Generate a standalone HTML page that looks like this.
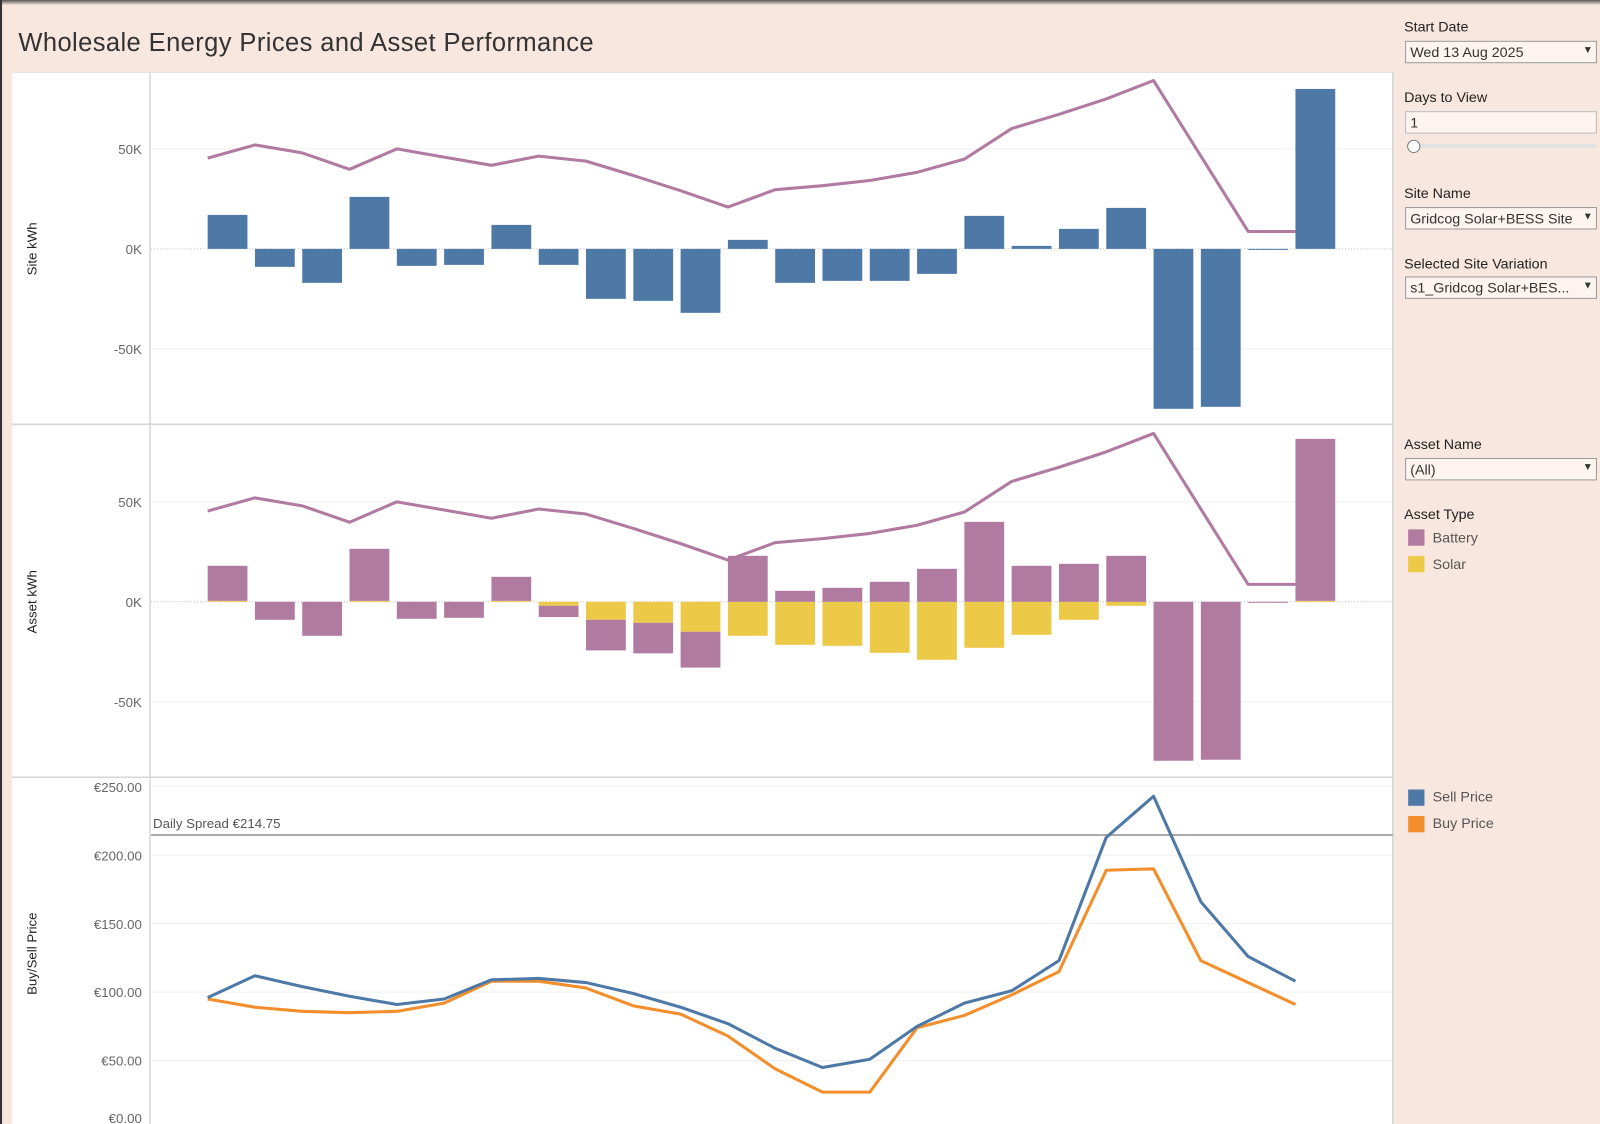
<!DOCTYPE html>
<html><head><meta charset="utf-8">
<style>
html,body{margin:0;padding:0;width:1600px;height:1124px;overflow:hidden;background:#f8e7df;font-family:"Liberation Sans",sans-serif;}
#wrap{position:absolute;left:0;top:0;width:1568px;height:1102px;transform:scale(1.0204,1.02);transform-origin:0 0;background:#f8e7df;}
.lbl{position:absolute;left:1376px;font-size:14px;color:#222;}
.box{position:absolute;left:1377px;width:188px;height:22px;border:1px solid #999;background:#fdf4ef;font-size:14px;color:#333;box-sizing:border-box;padding:2px 4px;}
.box .arr{position:absolute;right:3px;top:3px;font-size:10px;}
.sw{position:absolute;left:1380px;width:16px;height:16px;}
.lt{position:absolute;left:1404px;font-size:14px;color:#555;}
</style></head><body>
<div id="wrap">
<div style="position:absolute;left:0;top:0;width:1568px;height:5px;background:linear-gradient(#555,#f8e7df)"></div>
<div style="position:absolute;left:0;top:0;width:2px;height:1102px;background:#333"></div>
<div style="position:absolute;left:18px;top:28px;font-size:25px;color:#333;letter-spacing:0.4px;font-weight:300">Wholesale Energy Prices and Asset Performance</div>

<div class="lbl" style="top:18px">Start Date</div>
<div class="box" style="top:40px">Wed 13 Aug 2025<span class="arr">▼</span></div>
<div class="lbl" style="top:87px">Days to View</div>
<div class="box" style="top:109px;border-color:#bbb">1</div>
<div style="position:absolute;left:1385px;top:141px;width:180px;height:4px;background:#e2e2e2"></div>
<div style="position:absolute;left:1379px;top:137px;width:11px;height:11px;border-radius:50%;border:1px solid #777;background:#fff"></div>
<div class="lbl" style="top:181px">Site Name</div>
<div class="box" style="top:203px">Gridcog Solar+BESS Site<span class="arr">▼</span></div>
<div class="lbl" style="top:250px">Selected Site Variation</div>
<div class="box" style="top:271px">s1_Gridcog Solar+BES...<span class="arr">▼</span></div>
<div class="lbl" style="top:427px">Asset Name</div>
<div class="box" style="top:449px">(All)<span class="arr">▼</span></div>
<div class="lbl" style="top:496px">Asset Type</div>
<div class="sw" style="top:519px;background:#b07aa1"></div>
<div class="lt" style="top:519px">Battery</div>
<div class="sw" style="top:545px;background:#edc948"></div>
<div class="lt" style="top:545px">Solar</div>
<div class="sw" style="top:774px;background:#4e79a7"></div>
<div class="lt" style="top:773px">Sell Price</div>
<div class="sw" style="top:800px;background:#f28e2b"></div>
<div class="lt" style="top:799px">Buy Price</div>

<svg id="chart" style="position:absolute;left:0;top:0" width="1568" height="1102" xmlns="http://www.w3.org/2000/svg" font-family="Liberation Sans, sans-serif"></svg>
</div>
<script>
const hours=[0,1,2,3,4,5,6,7,8,9,10,11,12,13,14,15,16,17,18,19,20,21,22,23];
const siteKwh=[17,-9,-17,26,-8.5,-8,12,-8,-25,-26,-32,4.5,-17,-16,-16,-12.5,16.5,1.5,10,20.5,-80,-79,-0.5,80];
const priceIndex=[45.4,52,48,39.8,50,45.9,41.8,46.4,43.9,36.7,29.1,20.9,29.6,31.6,34.2,38.3,44.9,60.2,67.3,75,84.2,46.4,8.7,8.7];
const battery=[17.5,-9,-17,26,-8.5,-8,12,-5.6,-15.3,-15.3,-17.9,23,5.5,7,10,16.5,40,18,19,23,-79.5,-79,-0.5,81];
const solar=[0.5,0,0,0.5,0,0,0.5,-2,-9,-10.5,-15,-17,-21.5,-22,-25.5,-29,-23,-16.5,-9,-2,0,0,0,0.5];
const sellPrice=[96,112,104,97,91,95,109,110,107,99,89,77,59,45,51,75,92,101,123,213,243,166,126,108];
const buyPrice=[95,89,86,85,86,92,108,108,103,90,84,68,44,27,27,74,83,98,115,189,190,123,107,91];
const kTicks=[50,0,-50];
const kTickLabels=["50K","0K","-50K"];
const eTicks=[250,200,150,100,50,0];
const eTickLabels=["€250.00","€200.00","€150.00","€100.00","€50.00","€0.00"];
const dailySpread=214.75;

const svg=document.getElementById('chart');
const NS="http://www.w3.org/2000/svg";
function mk(tag,attrs,name,inter){const e=document.createElementNS(NS,tag);for(const k in attrs)e.setAttribute(k,attrs[k]);


svg.appendChild(e);return e;}
const barX=h=>223+h*46.35;
const lineX=h=>203.5+h*46.35;
const BW=39;
const y1=v=>244-v*1.96;
const y2=v=>590-v*1.96;
const y3=v=>1107-v*1.343;

mk('rect',{x:12,y:71,width:1353,height:1031,fill:'#fff'},'plot-background',false);
[[y1,'site'],[y2,'asset']].forEach(([yf,nm])=>{
 kTicks.forEach((t,i)=>{
  if(t!==0) mk('line',{x1:148,x2:1365,y1:yf(t),y2:yf(t),stroke:'#f0f0f0'},nm+'-gridline',false);
  const tx=mk('text',{x:139,y:yf(t)+5,'text-anchor':'end','font-size':13,fill:'#666'},nm+'-y-tick',false);tx.textContent=kTickLabels[i];
 });
 mk('line',{x1:148,x2:1365,y1:yf(0),y2:yf(0),stroke:'#bbb','stroke-dasharray':'1,2'},nm+'-zero-line',false);
});
eTicks.forEach((t,i)=>{
 mk('line',{x1:148,x2:1365,y1:y3(t),y2:y3(t),stroke:'#f0f0f0'},'price-gridline',false);
 const tx=mk('text',{x:139,y:Math.min(y3(t)+5,1101),'text-anchor':'end','font-size':13,fill:'#666'},'price-y-tick',false);tx.textContent=eTickLabels[i];
});
mk('line',{x1:12,x2:1365,y1:416,y2:416,stroke:'#d6d6d6','stroke-width':1.5},'panel-divider',false);
mk('line',{x1:12,x2:1365,y1:762,y2:762,stroke:'#d6d6d6','stroke-width':1.5},'panel-divider',false);
mk('line',{x1:147,x2:147,y1:71,y2:1102,stroke:'#d6d6d6','stroke-width':1.5},'y-axis-line',false);
mk('line',{x1:1365,x2:1365,y1:71,y2:1102,stroke:'#d6d6d6','stroke-width':1.5},'plot-right-border',false);
mk('line',{x1:12,x2:1365,y1:71,y2:71,stroke:'#e0e0e0'},'plot-top-border',false);
[['Site kWh',244,'site-y-axis-title'],['Asset kWh',590,'asset-y-axis-title'],['Buy/Sell Price',935,'price-y-axis-title']].forEach(([t,cy,n])=>{
 const tx=mk('text',{x:36,y:cy,'text-anchor':'middle','font-size':13,fill:'#222',transform:`rotate(-90 36 ${cy})`},n,false);tx.textContent=t;
});
hours.forEach(h=>{const v=siteKwh[h];mk('rect',{x:barX(h)-BW/2,y:Math.min(y1(v),y1(0)),width:BW,height:Math.abs(y1(v)-y1(0)),fill:'#4e79a7'},'site-bar-h'+h,true);});
function poly(arr,xf,yf,color,w,name){mk('polyline',{points:hours.map(h=>xf(h)+','+yf(arr[h])).join(' '),fill:'none',stroke:color,'stroke-width':w,'stroke-linejoin':'round'},name,true);}
poly(priceIndex,lineX,y1,'#b07aa1',3,'site-price-line');
hours.forEach(h=>{
 let pos=0,neg=0;
 [[solar[h],'#edc948','solar'],[battery[h],'#b07aa1','battery']].forEach(([v,c,n])=>{
  if(v===0)return;
  let a,b;
  if(v>0){a=pos;b=pos+v;pos=b;}else{a=neg;b=neg+v;neg=b;}
  mk('rect',{x:barX(h)-BW/2,y:Math.min(y2(a),y2(b)),width:BW,height:Math.abs(y2(a)-y2(b)),fill:c},n+'-bar-h'+h,true);
 });
});
poly(priceIndex,lineX,y2,'#b07aa1',3,'asset-price-line');
mk('line',{x1:148,x2:1365,y1:y3(dailySpread),y2:y3(dailySpread),stroke:'#aaa','stroke-width':2},'daily-spread-line',false);
const sp=mk('text',{x:150,y:y3(dailySpread)-7,'font-size':13,fill:'#555'},'daily-spread-label',false);sp.textContent='Daily Spread €'+dailySpread.toFixed(2);
poly(buyPrice,lineX,y3,'#f28e2b',3,'buy-price-line');
poly(sellPrice,lineX,y3,'#4e79a7',3,'sell-price-line');
</script>
</body></html>
